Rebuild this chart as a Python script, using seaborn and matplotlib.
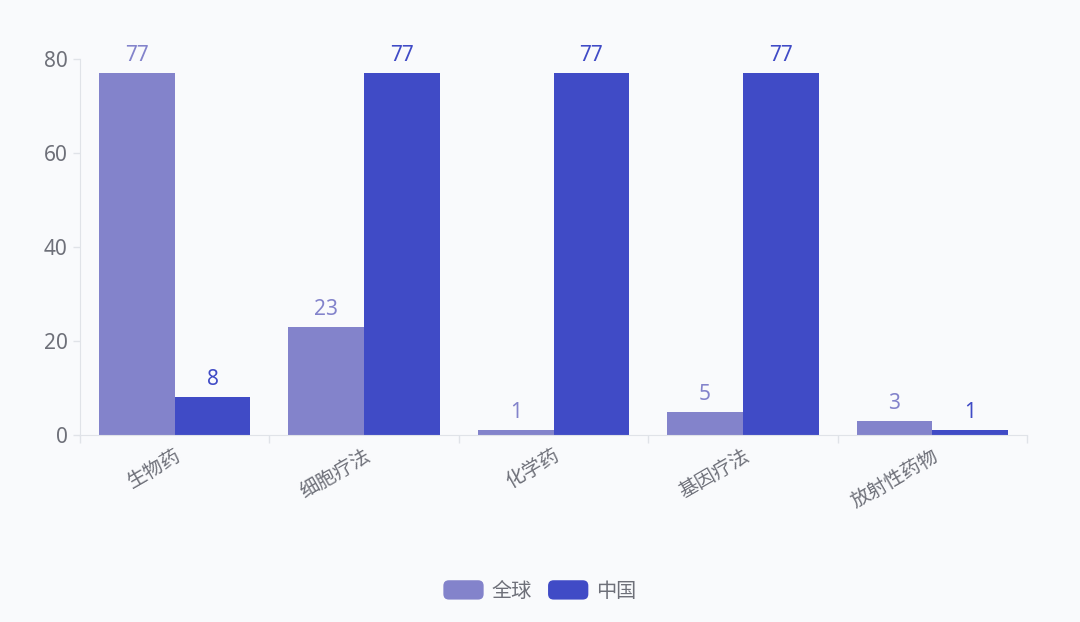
import numpy as np
import pandas as pd
import matplotlib
matplotlib.use("Agg")
import matplotlib.pyplot as plt
import seaborn as sns
from matplotlib.patches import FancyBboxPatch
from matplotlib.legend_handler import HandlerPatch

# 数据
categories = ["生物药", "细胞疗法", "化学药", "基因疗法", "放射性药物"]
global_vals = [77, 23, 1, 5, 3]
china_vals = [8, 77, 77, 77, 1]
series_names = ["全球", "中国"]
colors = ["#8383cb", "#404bc6"]

df = pd.DataFrame({
    "类别": categories * 2,
    "数量": global_vals + china_vals,
    "系列": [series_names[0]] * len(categories) + [series_names[1]] * len(categories),
})

sns.set_style("white")
plt.rcParams["font.family"] = ["Noto Sans", "Noto Sans CJK SC", "DejaVu Sans"]
bg = "#f9fafc"

fig = plt.figure(figsize=(10.8, 6.22), dpi=100, facecolor=bg)
ax = fig.add_axes([80 / 1080, 1 - 435 / 622, (1027 - 80) / 1080, (435 - 59) / 622])
ax.set_facecolor(bg)

sns.barplot(data=df, x="类别", y="数量", hue="系列", order=categories,
            hue_order=series_names, palette=colors, width=0.8, saturation=1,
            linewidth=0, ax=ax, legend=False)

# 数值标签
for cont, c in zip(ax.containers, colors):
    ax.bar_label(cont, padding=5, color=c, fontsize=15)

ax.set_ylim(0, 80)
ax.set_xlim(-0.5, len(categories) - 0.5)
ax.set_yticks([0, 20, 40, 60, 80])
ax.set_xlabel("")
ax.set_ylabel("")

for s in ["top", "right"]:
    ax.spines[s].set_visible(False)
ax.spines["left"].set_color("#e0e3e8")
ax.spines["bottom"].set_color("#e0e3e8")

ax.tick_params(axis="y", colors="#e0e3e8", labelcolor="#6e7079", labelsize=15,
               length=5, width=1, left=True, pad=4)
ax.set_xticks(range(len(categories)))
ax.set_xticklabels(categories, rotation=30, ha="right", rotation_mode="anchor",
                   color="#6e7079", fontsize=14)
ax.tick_params(axis="x", which="major", length=0, pad=8)
ax.set_xticks(np.arange(-0.5, len(categories), 1), minor=True)
ax.tick_params(axis="x", which="minor", length=6, width=1, color="#e0e3e8", bottom=True)


class RoundHandler(HandlerPatch):
    def create_artists(self, legend, orig_handle, xdescent, ydescent, width, height, fontsize, trans):
        p = FancyBboxPatch((-xdescent, -ydescent), width, height,
                           boxstyle="round,pad=0,rounding_size=4",
                           facecolor=orig_handle.get_facecolor(), edgecolor="none",
                           transform=trans)
        return [p]


handles = [plt.Rectangle((0, 0), 1, 1, facecolor=c) for c in colors]
fig.legend(handles, series_names, loc="center", bbox_to_anchor=(0.5, 1 - 591 / 622),
           ncol=2, frameon=False, fontsize=14.5, labelcolor="#6e7079",
           handlelength=2.0, handleheight=1.1, handletextpad=0.4, columnspacing=0.8,
           handler_map={plt.Rectangle: RoundHandler()})

fig.savefig("out.png", dpi=100, facecolor=bg)
